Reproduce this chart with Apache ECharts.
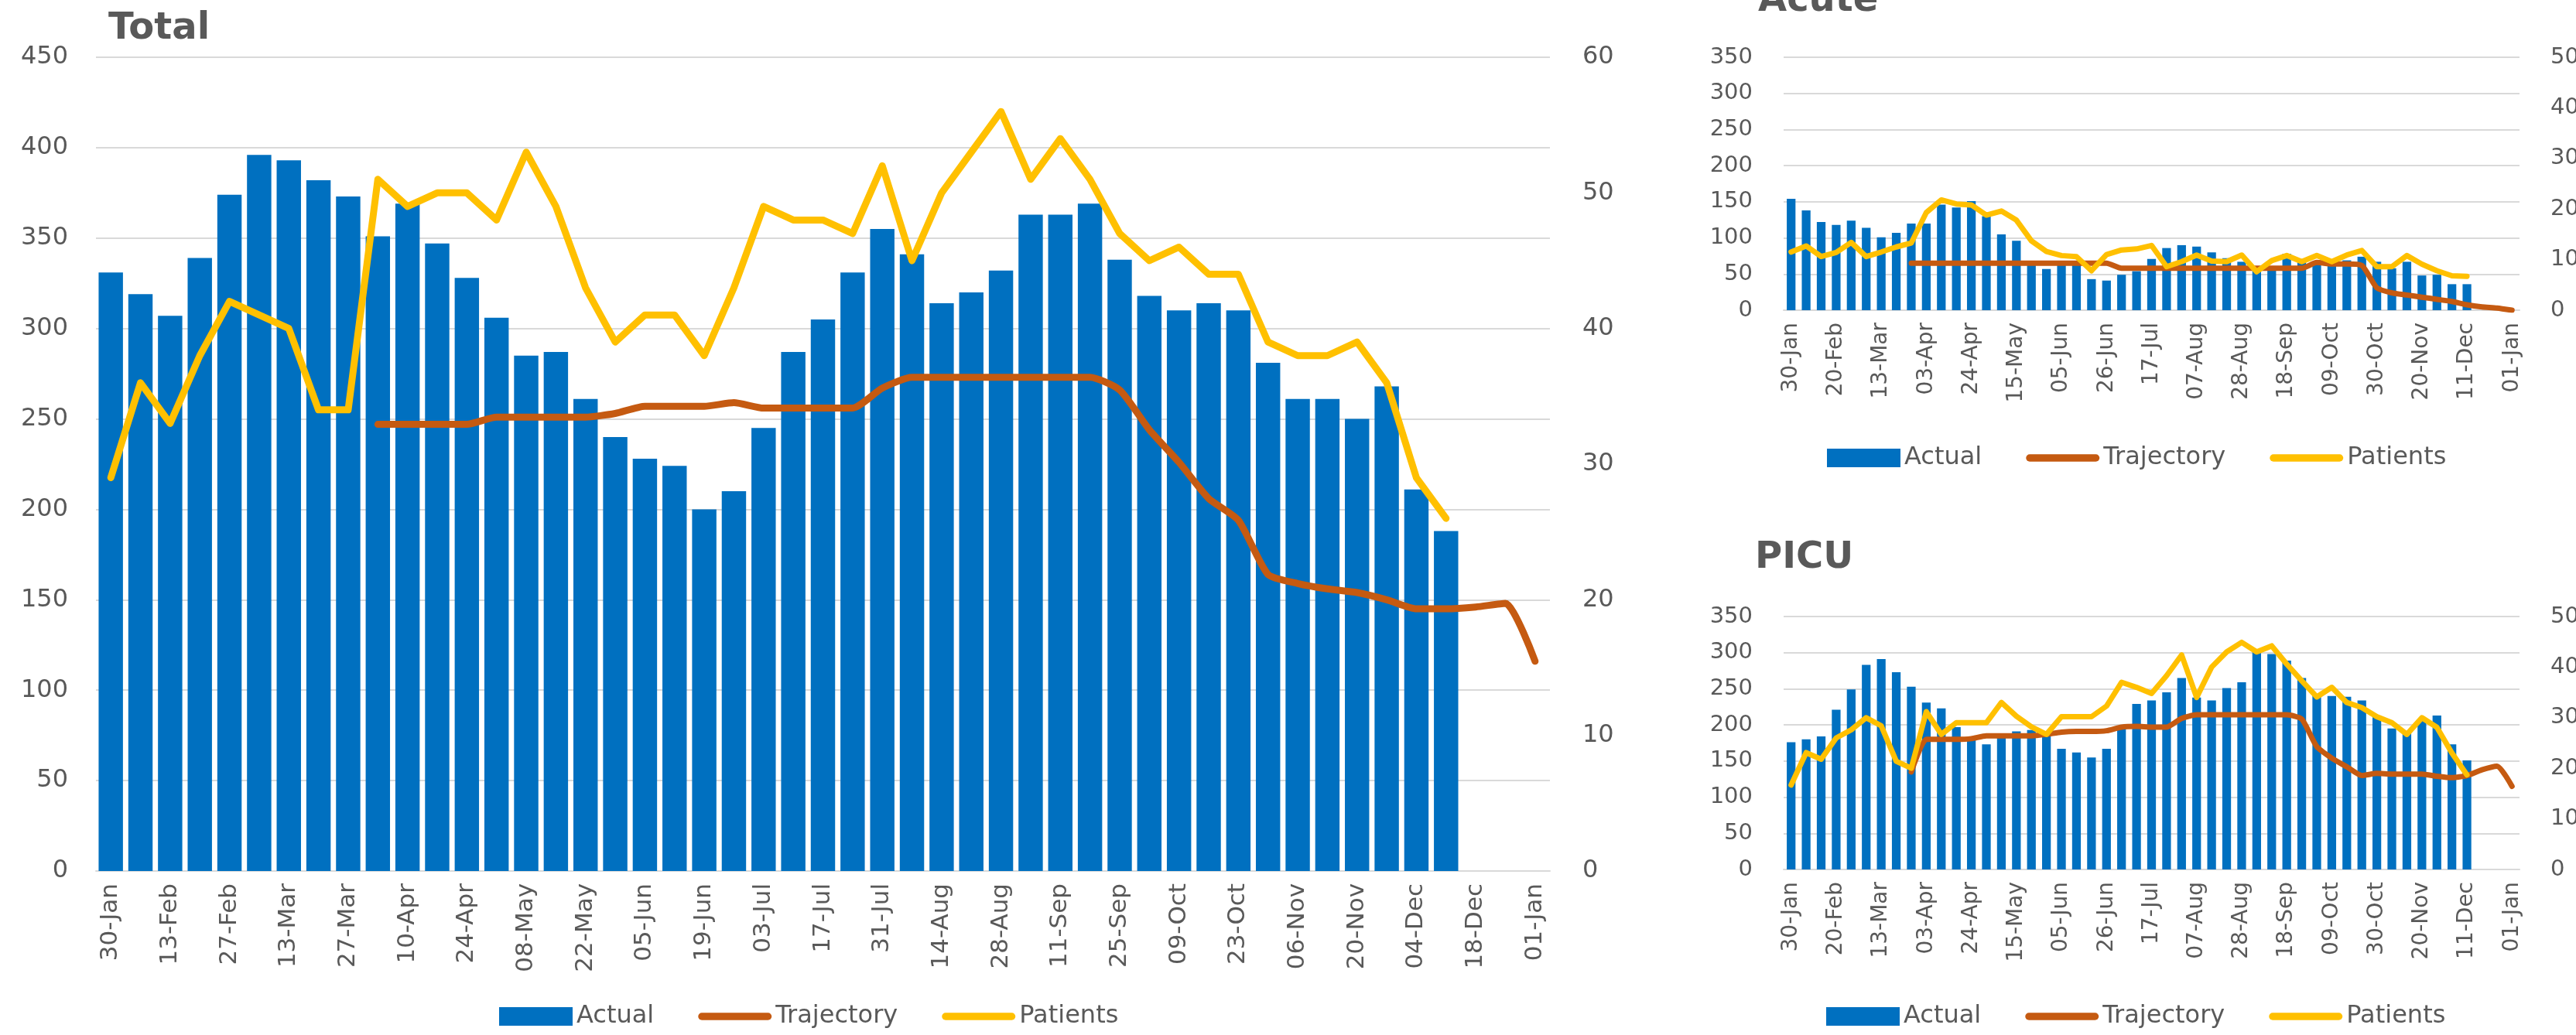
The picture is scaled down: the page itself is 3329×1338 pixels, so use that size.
<!DOCTYPE html>
<html style="height: 100%">
  <head>
    <meta charset="utf-8" />
  </head>
  <body style="height: 100%; margin: 0; background: #ffffff">
    <div id="container" style="width: 3329px; height: 1338px"></div>

    <script src="https://cdn.jsdelivr.net/npm/echarts@6/dist/echarts.min.js"></script>
    <script type="text/javascript">
      // weekly categories, shared by the three panels
      var weeks = [
        "30-Jan", "06-Feb", "13-Feb", "20-Feb", "27-Feb", "06-Mar", "13-Mar",
        "20-Mar", "27-Mar", "03-Apr", "10-Apr", "17-Apr", "24-Apr", "01-May",
        "08-May", "15-May", "22-May", "29-May", "05-Jun", "12-Jun", "19-Jun",
        "26-Jun", "03-Jul", "10-Jul", "17-Jul", "24-Jul", "31-Jul", "07-Aug",
        "14-Aug", "21-Aug", "28-Aug", "04-Sep", "11-Sep", "18-Sep", "25-Sep",
        "02-Oct", "09-Oct", "16-Oct", "23-Oct", "30-Oct", "06-Nov", "13-Nov",
        "20-Nov", "27-Nov", "04-Dec", "11-Dec", "18-Dec", "25-Dec", "01-Jan"
      ];

      // Total
      var totalActual = [
        331, 319, 307, 339, 374, 396, 393, 382, 373, 351, 369, 347, 328, 306,
        285, 287, 261, 240, 228, 224, 200, 210, 245, 287, 305, 331, 355, 341,
        314, 320, 332, 363, 363, 369, 338, 318, 310, 314, 310, 281, 261, 261,
        250, 268, 211, 188
      ];
      var totalTrajectory = [
        null, null, null, null, null, null, null, null, null,
        247, 247, 247, 247, 251, 251, 251, 251, 253, 257, 257, 257, 259, 256,
        256, 256, 256, 267, 273, 273, 273, 273, 273, 273, 273, 266, 244, 226,
        206, 194, 164, 159, 156, 154, 150, 145, 145, 146, 148, 116
      ];
      var totalPatients = [
        29, 36, 33, 38, 42, 41, 40, 34, 34, 51, 49, 50, 50, 48, 53, 49, 43, 39,
        41, 41, 38, 43, 49, 48, 48, 47, 52, 45, 50, 53, 56, 51, 54, 51, 47, 45,
        46, 44, 44, 39, 38, 38, 39, 36, 29, 26
      ];

      // Acute
      var acuteActual = [
        154, 138, 122, 118, 124, 114, 101, 107, 120, 120, 146, 142, 151, 130,
        105, 96, 64, 57, 65, 65, 43, 41, 49, 54, 71, 86, 90, 88, 80, 72, 67,
        55, 58, 78, 71, 67, 65, 69, 74, 67, 58, 67, 48, 49, 36, 36
      ];
      var acuteTrajectory = [
        null, null, null, null, null, null, null, null,
        65, 65, 65, 65, 65, 65, 65, 65, 65, 65, 65, 65, 65, 65, 58, 58, 58, 58,
        58, 58, 58, 58, 58, 58, 58, 58, 58, 66, 64, 64, 62, 31, 24, 21, 18, 15,
        12, 7.5, 4.6, 3, 0
      ];
      var acutePatients = [
        11.5, 12.7, 10.6, 11.4, 13.4, 10.6, 11.5, 12.5, 13.3, 19.3, 21.8, 21,
        20.8, 18.8, 19.6, 17.8, 13.7, 11.6, 10.8, 10.6, 7.8, 11, 11.9, 12.1,
        12.8, 8.6, 9.6, 10.9, 9.7, 9.6, 10.9, 7.6, 9.8, 10.8, 9.6, 10.8, 9.6,
        10.9, 11.8, 8.6, 8.6, 10.8, 9.1, 7.8, 6.8, 6.7
      ];

      // PICU
      var picuActual = [
        176, 180, 184, 221, 249, 283, 291, 273, 253, 231, 223, 197, 182, 173,
        183, 191, 193, 184, 167, 162, 155, 167, 195, 229, 234, 245, 265, 238,
        234, 251, 259, 302, 298, 289, 265, 243, 240, 239, 234, 213, 195, 190,
        207, 213, 173, 151
      ];
      var picuTrajectory = [
        null, null, null, null, null, null, null, null,
        135, 180, 180, 180, 181, 185, 185, 185, 185, 187, 190, 191, 191, 192,
        197, 198, 197, 197, 209, 214, 214, 214, 214, 214, 214, 214, 208, 170,
        154, 142, 130, 133, 132, 132, 132, 129, 127, 130, 138, 143, 115
      ];
      var picuPatients = [
        16.7, 23.1, 21.8, 26, 27.6, 30, 28.4, 21.4, 20, 31.2, 26.7, 29, 29, 29,
        33, 30.3, 28.2, 26.7, 30.2, 30.2, 30.2, 32.3, 37, 36, 34.8, 38.3, 42.4,
        34, 40, 43, 44.9, 43, 44.2, 40.6, 37.3, 34.1, 36, 33, 32, 30.2, 29,
        26.7, 30, 28.1, 23, 18.7
      ];

      var blue = "#0070C0";
      var brown = "#C55A11";
      var gold = "#FFC000";
      var textGrey = "#595959";
      var lineGrey = "#D9D9D9";
      var font = "DejaVu Sans";
      // thick rounded bar used as the legend icon of the two lines
      var lineIcon = "path://M5,0 H95 A5,5 0 0 1 95,10 H5 A5,5 0 0 1 5,0 Z";

      function catAxis(gridIndex, every, size) {
        return {
          type: "category",
          gridIndex: gridIndex,
          data: weeks,
          axisLine: { lineStyle: { color: lineGrey, width: 2 } },
          axisTick: {
            interval: 0,
            length: 12,
            lineStyle: { color: lineGrey, width: 2 },
          },
          axisLabel: {
            interval: every - 1,
            rotate: 90,
            margin: 16,
            color: textGrey,
            fontFamily: font,
            fontSize: size,
          },
        };
      }

      function valAxis(gridIndex, max, step, size, margin, right) {
        return {
          type: "value",
          gridIndex: gridIndex,
          position: right ? "right" : "left",
          min: 0,
          max: max,
          interval: step,
          axisLine: { show: false },
          axisTick: { show: false },
          splitLine: {
            show: !right,
            lineStyle: { color: lineGrey, width: 2 },
          },
          axisLabel: {
            margin: margin,
            color: textGrey,
            fontFamily: font,
            fontSize: size,
          },
        };
      }

      function panelSeries(i, actual, trajectory, patients, lineWidth, gap) {
        return [
          {
            name: "Actual",
            type: "bar",
            xAxisIndex: i,
            yAxisIndex: 2 * i,
            data: actual,
            barCategoryGap: gap,
            itemStyle: { color: blue },
          },
          {
            name: "Trajectory",
            type: "line",
            xAxisIndex: i,
            yAxisIndex: 2 * i,
            data: trajectory,
            symbol: "none",
            smooth: 0.2,
            lineStyle: { color: brown, width: lineWidth, cap: "round", join: "round" },
            itemStyle: { color: brown },
          },
          {
            name: "Patients",
            type: "line",
            xAxisIndex: i,
            yAxisIndex: 2 * i + 1,
            data: patients,
            symbol: "none",
            lineStyle: { color: gold, width: lineWidth, cap: "round", join: "round" },
            itemStyle: { color: gold },
          },
        ];
      }

      function legendAt(left, top) {
        return {
          left: left,
          top: top,
          padding: 0,
          itemWidth: 95,
          itemHeight: 24,
          itemGap: 57,
          selectedMode: false,
          data: [
            { name: "Actual", icon: "rect" },
            { name: "Trajectory", icon: lineIcon },
            { name: "Patients", icon: lineIcon },
          ],
          textStyle: { color: textGrey, fontFamily: font, fontSize: 32 },
        };
      }

      var titleStyle = {
        color: textGrey,
        fontFamily: font,
        fontWeight: "bold",
        fontSize: 48,
      };

      var dom = document.getElementById("container");
      var myChart = echarts.init(dom, null, { renderer: "canvas" });

      var option = {
        animation: false,
        backgroundColor: "#ffffff",
        title: [
          { text: "Total", left: 140, top: 14, padding: 0, textStyle: titleStyle },
          { text: "Acute", left: 2272, top: -22, padding: 0, textStyle: titleStyle },
          { text: "PICU", left: 2268, top: 698, padding: 0, textStyle: titleStyle },
        ],
        legend: [legendAt(645, 1298), legendAt(2361, 576), legendAt(2360, 1298)],
        grid: [
          { left: 124, top: 74, width: 1879, height: 1052, outerBoundsMode: "none" },
          { left: 2305, top: 74, width: 951, height: 327, outerBoundsMode: "none" },
          { left: 2305, top: 797, width: 951, height: 327, outerBoundsMode: "none" },
        ],
        xAxis: [catAxis(0, 2, 31), catAxis(1, 3, 28), catAxis(2, 3, 28)],
        yAxis: [
          valAxis(0, 450, 50, 32, 36, false),
          valAxis(0, 60, 10, 32, 42, true),
          valAxis(1, 350, 50, 29, 40, false),
          valAxis(1, 50, 10, 29, 40, true),
          valAxis(2, 350, 50, 29, 40, false),
          valAxis(2, 50, 10, 29, 40, true),
        ],
        series: []
          .concat(panelSeries(0, totalActual, totalTrajectory, totalPatients, 9, "18%"))
          .concat(panelSeries(1, acuteActual, acuteTrajectory, acutePatients, 7, "42%"))
          .concat(panelSeries(2, picuActual, picuTrajectory, picuPatients, 7, "42%")),
      };

      if (option && typeof option === "object") {
        myChart.setOption(option);
      }
    </script>
  </body>
</html>
